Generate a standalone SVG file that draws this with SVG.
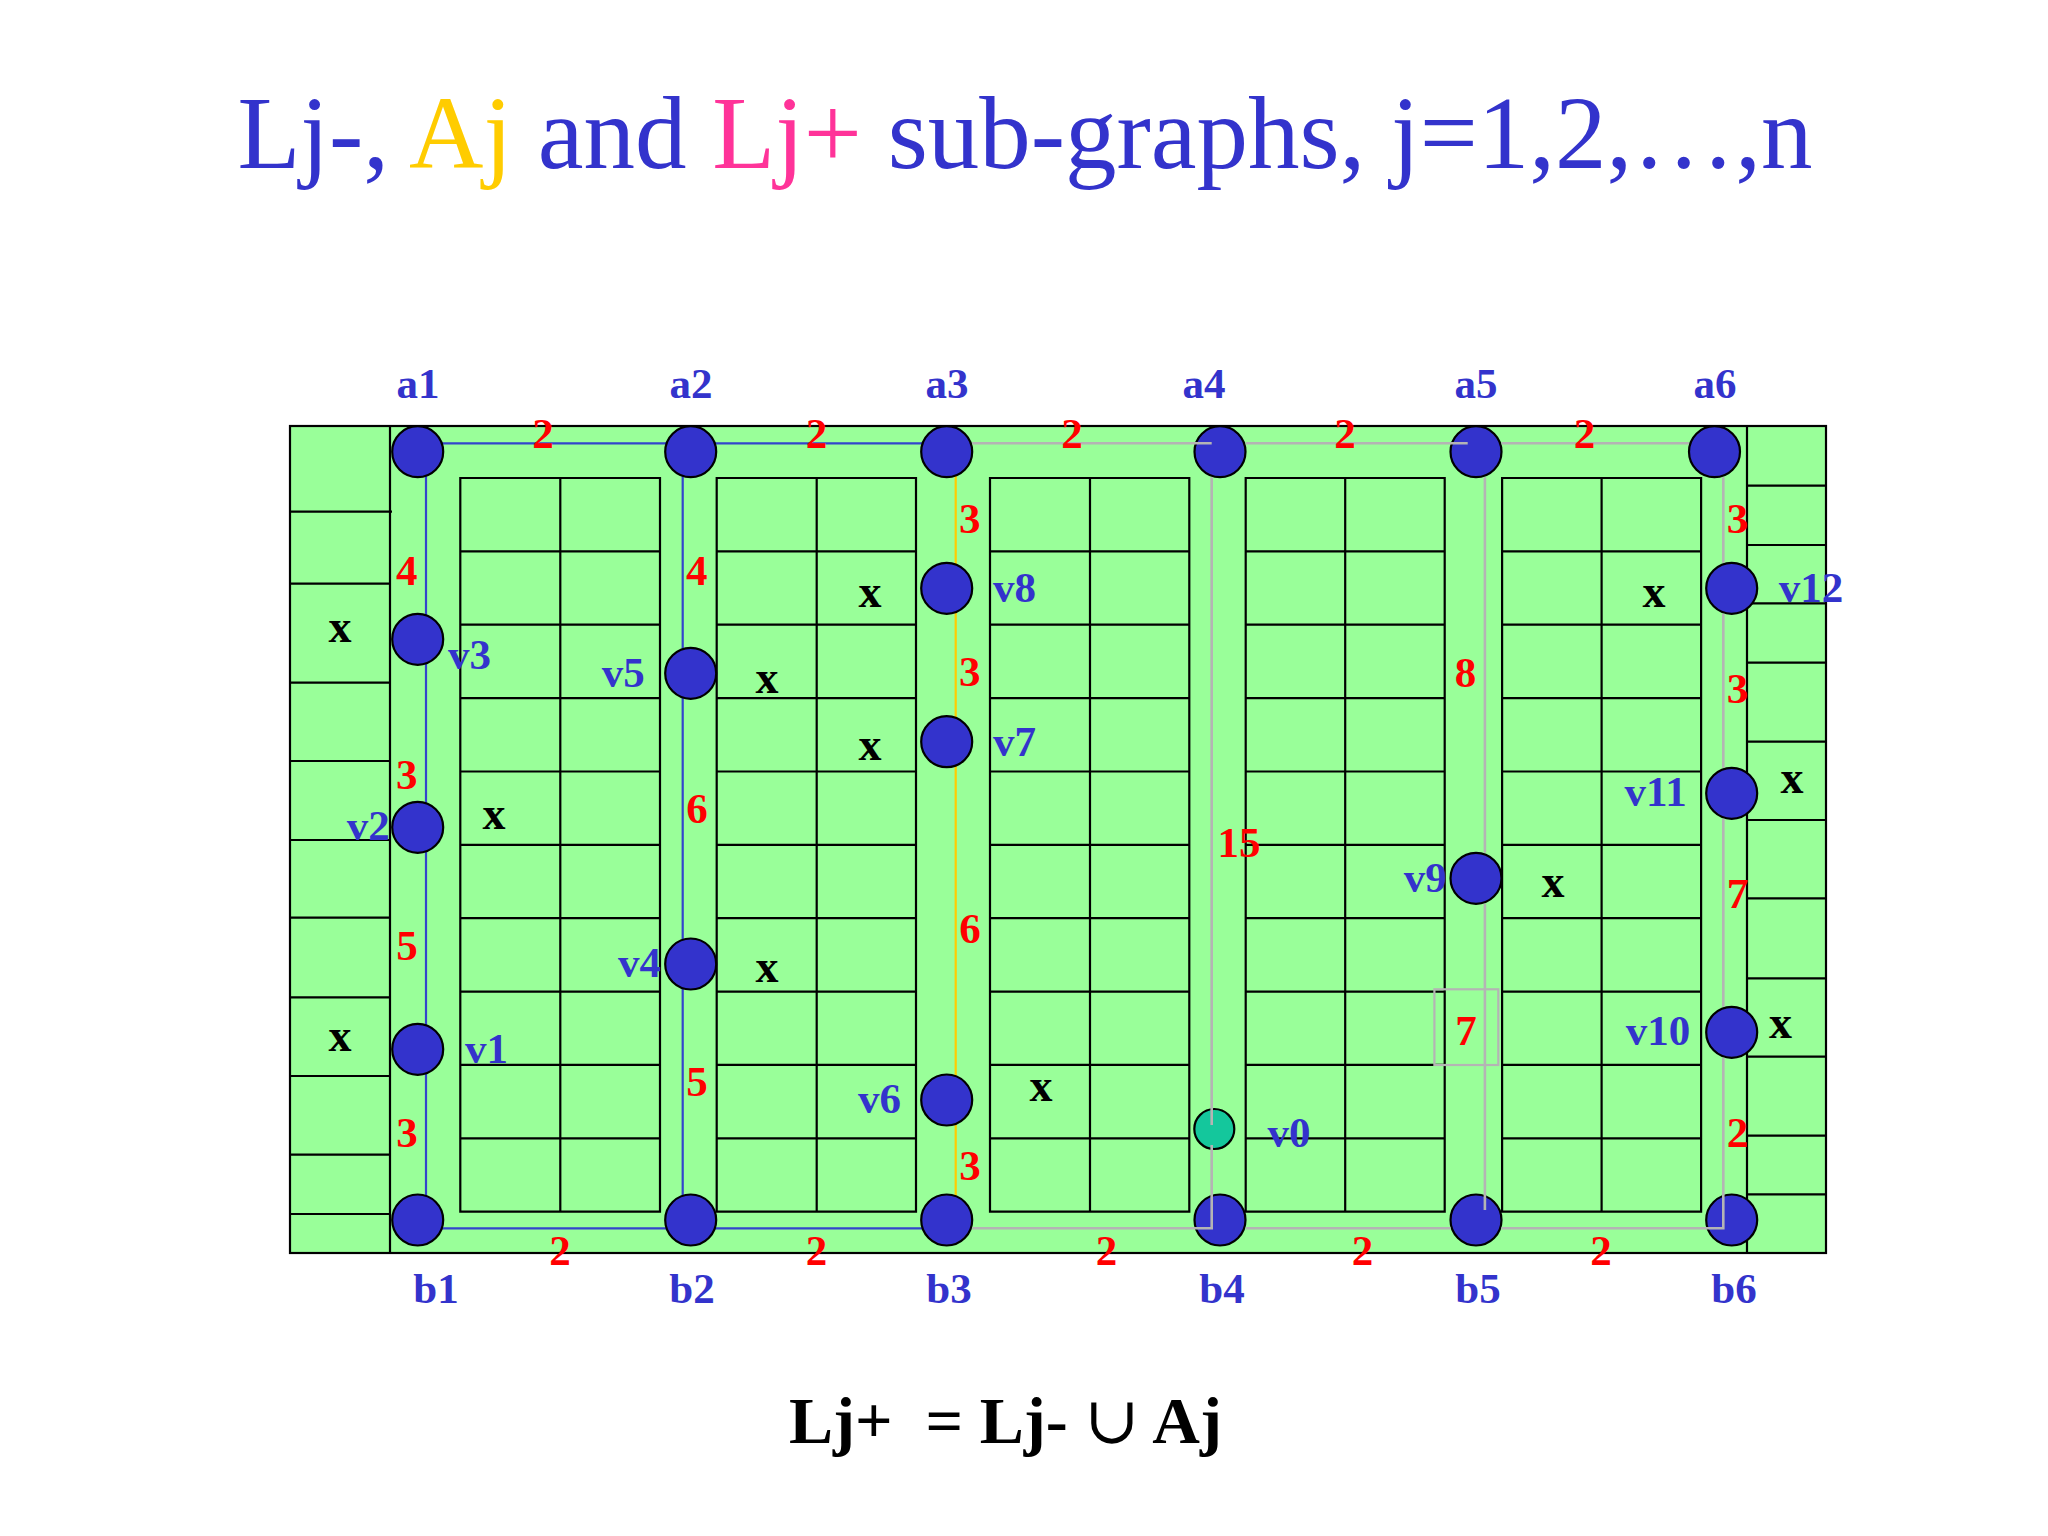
<svg xmlns="http://www.w3.org/2000/svg" width="2048" height="1536" viewBox="0 0 2048 1536">
<style>
.bg{fill:#FFFFFF}
.area{fill:#99FF99;stroke:#000;stroke-width:2.2}
.ln{stroke:#000;stroke-width:2.2;fill:none}
.blk{fill:none;stroke:#000;stroke-width:2.2}
.node{fill:#3333CC;stroke:#000;stroke-width:2.2}
.src{fill:#14C79C;stroke:#000;stroke-width:2.2}
.eb{stroke:#3344CC;stroke-width:2.2;fill:none}
.ey{stroke:#FFCC00;stroke-width:2.2;fill:none}
.eg{stroke:#B4B4B4;stroke-width:2.6;fill:none}
.t{font-family:"Liberation Serif","Times New Roman",serif;font-weight:bold}
.nl{font-size:43px;fill:#3333CC}
.wl{font-size:43px;fill:#FF0000;text-anchor:middle}
.xm{font-size:46px;fill:#000;text-anchor:middle}
.c{text-anchor:middle}
</style>
<rect class="bg" x="0" y="0" width="2048" height="1536"/>

<text x="1025" y="168" font-family="Liberation Serif, Times New Roman, serif" font-size="103" text-anchor="middle" fill="#3333CC">Lj-, <tspan fill="#FFCC00">Aj</tspan> and <tspan fill="#FF3399">Lj+</tspan> sub-graphs, j=1,2,…,n</text>

<g id="layout">
<rect class="area" x="290" y="426" width="1536" height="827"/>
<path class="ln" d="M390 426V1253M1747 426V1253"/>
<path class="ln" d="M290 511.7H392M290 583.7H390M290 682.7H390M290 761H390M290 840H390M290 917.7H390M290 997.3H390M290 1076H390M290 1154.7H390M290 1214H390"/>
<path class="ln" d="M1747 485.7H1826M1747 545H1826M1747 603.3H1826M1747 662.7H1826M1747 741.7H1826M1747 820H1826M1747 898.3H1826M1747 978.3H1826M1747 1056.7H1826M1747 1135.7H1826M1747 1194.3H1826"/>
<g id="blocks">
<path class="blk" d="M460.3 478H660V1211.7H460.3ZM560.3 478V1211.7M460.3 551.4H660M460.3 624.7H660M460.3 698.1H660M460.3 771.5H660M460.3 844.9H660M460.3 918.2H660M460.3 991.6H660M460.3 1064.9H660M460.3 1138.3H660"/>
<path class="blk" d="M716.7 478H916V1211.7H716.7ZM816.7 478V1211.7M716.7 551.4H916M716.7 624.7H916M716.7 698.1H916M716.7 771.5H916M716.7 844.9H916M716.7 918.2H916M716.7 991.6H916M716.7 1064.9H916M716.7 1138.3H916"/>
<path class="blk" d="M990 478H1189.3V1211.7H990ZM1090 478V1211.7M990 551.4H1189.3M990 624.7H1189.3M990 698.1H1189.3M990 771.5H1189.3M990 844.9H1189.3M990 918.2H1189.3M990 991.6H1189.3M990 1064.9H1189.3M990 1138.3H1189.3"/>
<path class="blk" d="M1245.7 478H1444.7V1211.7H1245.7ZM1345.2 478V1211.7M1245.7 551.4H1444.7M1245.7 624.7H1444.7M1245.7 698.1H1444.7M1245.7 771.5H1444.7M1245.7 844.9H1444.7M1245.7 918.2H1444.7M1245.7 991.6H1444.7M1245.7 1064.9H1444.7M1245.7 1138.3H1444.7"/>
<path class="blk" d="M1502.1 478H1701.1V1211.7H1502.1ZM1601.6 478V1211.7M1502.1 551.4H1701.1M1502.1 624.7H1701.1M1502.1 698.1H1701.1M1502.1 771.5H1701.1M1502.1 844.9H1701.1M1502.1 918.2H1701.1M1502.1 991.6H1701.1M1502.1 1064.9H1701.1M1502.1 1138.3H1701.1"/>
</g>
<rect x="1434.4" y="989.3" width="63.9" height="75.7" fill="none" stroke="#B4B4B4" stroke-width="2.2"/>
</g>

<g id="edges-under">
<path class="eb" d="M426 451.7V1228.3H946.7M417.7 443.3H946.7M682.7 443.3V1228.3"/>
<path class="ey" d="M955.7 451.7V1220"/>
</g>

<g id="node-a1"><circle class="node" cx="417.7" cy="451.7" r="25.5"/><text class="t nl c" x="418" y="398">a1</text></g>
<g id="node-v3"><circle class="node" cx="417.7" cy="639.3" r="25.5"/><text class="t nl" x="448" y="669">v3</text></g>
<g id="node-v2"><circle class="node" cx="417.7" cy="827.3" r="25.5"/><text class="t nl" x="346.7" y="840">v2</text></g>
<g id="node-v1"><circle class="node" cx="417.7" cy="1049.3" r="25.5"/><text class="t nl" x="465" y="1062.7">v1</text></g>
<g id="node-b1"><circle class="node" cx="417.7" cy="1220" r="25.5"/><text class="t nl c" x="436" y="1303">b1</text></g>

<g id="node-a2"><circle class="node" cx="690.7" cy="451.7" r="25.5"/><text class="t nl c" x="691" y="398">a2</text></g>
<g id="node-v5"><circle class="node" cx="690.7" cy="673.3" r="25.5"/><text class="t nl" x="601.7" y="686.7">v5</text></g>
<g id="node-v4"><circle class="node" cx="690.7" cy="964" r="25.5"/><text class="t nl" x="618" y="976.7">v4</text></g>
<g id="node-b2"><circle class="node" cx="690.7" cy="1220" r="25.5"/><text class="t nl c" x="692" y="1303">b2</text></g>

<g id="node-a3"><circle class="node" cx="946.7" cy="451.7" r="25.5"/><text class="t nl c" x="947" y="398">a3</text></g>
<g id="node-v8"><circle class="node" cx="946.7" cy="588.3" r="25.5"/><text class="t nl" x="993" y="601.7">v8</text></g>
<g id="node-v7"><circle class="node" cx="946.7" cy="741.7" r="25.5"/><text class="t nl" x="993" y="756">v7</text></g>
<g id="node-v6"><circle class="node" cx="946.7" cy="1100" r="25.5"/><text class="t nl" x="858" y="1112.7">v6</text></g>
<g id="node-b3"><circle class="node" cx="946.7" cy="1220" r="25.5"/><text class="t nl c" x="949" y="1303">b3</text></g>

<g id="node-a4"><circle class="node" cx="1220" cy="451.7" r="25.5"/><text class="t nl c" x="1204" y="398">a4</text></g>
<g id="node-v0"><circle class="src" cx="1214.3" cy="1129" r="20"/><text class="t nl" x="1267.6" y="1146.7">v0</text></g>
<g id="node-b4"><circle class="node" cx="1220" cy="1220" r="25.5"/><text class="t nl c" x="1222" y="1303">b4</text></g>

<g id="node-a5"><circle class="node" cx="1476" cy="451.7" r="25.5"/><text class="t nl c" x="1476" y="398">a5</text></g>
<g id="node-v9"><circle class="node" cx="1476" cy="878.3" r="25.5"/><text class="t nl" x="1403.8" y="891.7">v9</text></g>
<g id="node-b5"><circle class="node" cx="1476" cy="1220" r="25.5"/><text class="t nl c" x="1478" y="1303">b5</text></g>

<g id="node-a6"><circle class="node" cx="1714.5" cy="451.7" r="25.5"/><text class="t nl c" x="1715" y="398">a6</text></g>
<g id="node-v12"><circle class="node" cx="1731.7" cy="588.3" r="25.5"/><text class="t nl" x="1778.8" y="601.7">v12</text></g>
<g id="node-v11"><circle class="node" cx="1731.7" cy="793.3" r="25.5"/><text class="t nl" x="1624.6" y="806">v11</text></g>
<g id="node-v10"><circle class="node" cx="1731.7" cy="1032.3" r="25.5"/><text class="t nl" x="1625.7" y="1045">v10</text></g>
<g id="node-b6"><circle class="node" cx="1731.7" cy="1220" r="25.5"/><text class="t nl c" x="1734" y="1303">b6</text></g>

<g id="edges-over">
<path class="eg" d="M972.2 443.3H1211.7M1245.7 443.3H1467.7M1501.5 443.3H1688.9"/>
<path class="eg" d="M1211.7 477.2V1125M1211.7 1145V1228.3H972.2M1245.7 1228.3H1450.5M1501.5 1228.3H1723.3V1057.8M1723.3 1006.8V818.8M1723.3 767.8V613.8M1723.3 562.8V477.2"/>
<path class="eg" d="M1484.9 477.2V852.8M1484.9 903.8V1210"/>
</g>

<g id="weights">
<text class="t wl" x="543" y="448">2</text>
<text class="t wl" x="816.5" y="448">2</text>
<text class="t wl" x="1072" y="448">2</text>
<text class="t wl" x="1345" y="448">2</text>
<text class="t wl" x="1584.5" y="448">2</text>
<text class="t wl" x="560" y="1265">2</text>
<text class="t wl" x="816.5" y="1265">2</text>
<text class="t wl" x="1106.5" y="1265">2</text>
<text class="t wl" x="1362.5" y="1265">2</text>
<text class="t wl" x="1601" y="1265">2</text>
<text class="t wl" x="406.7" y="585">4</text>
<text class="t wl" x="406.7" y="789.3">3</text>
<text class="t wl" x="407" y="960">5</text>
<text class="t wl" x="407" y="1146.7">3</text>
<text class="t wl" x="696.7" y="585">4</text>
<text class="t wl" x="697" y="822.7">6</text>
<text class="t wl" x="697" y="1096">5</text>
<text class="t wl" x="969.7" y="533.3">3</text>
<text class="t wl" x="969.7" y="686">3</text>
<text class="t wl" x="970" y="942.7">6</text>
<text class="t wl" x="970" y="1180">3</text>
<text class="t wl" x="1239" y="857.3">15</text>
<text class="t wl" x="1465.6" y="686.7">8</text>
<text class="t wl" x="1466" y="1045">7</text>
<text class="t wl" x="1737.5" y="533.3">3</text>
<text class="t wl" x="1737.5" y="703.3">3</text>
<text class="t wl" x="1737.5" y="908.3">7</text>
<text class="t wl" x="1737.5" y="1146.7">2</text>
</g>

<g id="marks">
<text class="t xm" x="340" y="641.7">x</text>
<text class="t xm" x="340" y="1050.7">x</text>
<text class="t xm" x="494" y="829.3">x</text>
<text class="t xm" x="767" y="692.7">x</text>
<text class="t xm" x="767" y="981.7">x</text>
<text class="t xm" x="870" y="606.7">x</text>
<text class="t xm" x="870" y="760">x</text>
<text class="t xm" x="1041" y="1100.7">x</text>
<text class="t xm" x="1553" y="897.3">x</text>
<text class="t xm" x="1654" y="606.7">x</text>
<text class="t xm" x="1792" y="793.3">x</text>
<text class="t xm" x="1780.5" y="1038.3">x</text>
</g>

<text class="t" x="789" y="1443" font-size="66" fill="#000" style="white-space:pre">Lj+  = Lj- <tspan font-weight="normal" font-family="DejaVu Serif, Liberation Serif, serif">∪</tspan> Aj</text>
</svg>
